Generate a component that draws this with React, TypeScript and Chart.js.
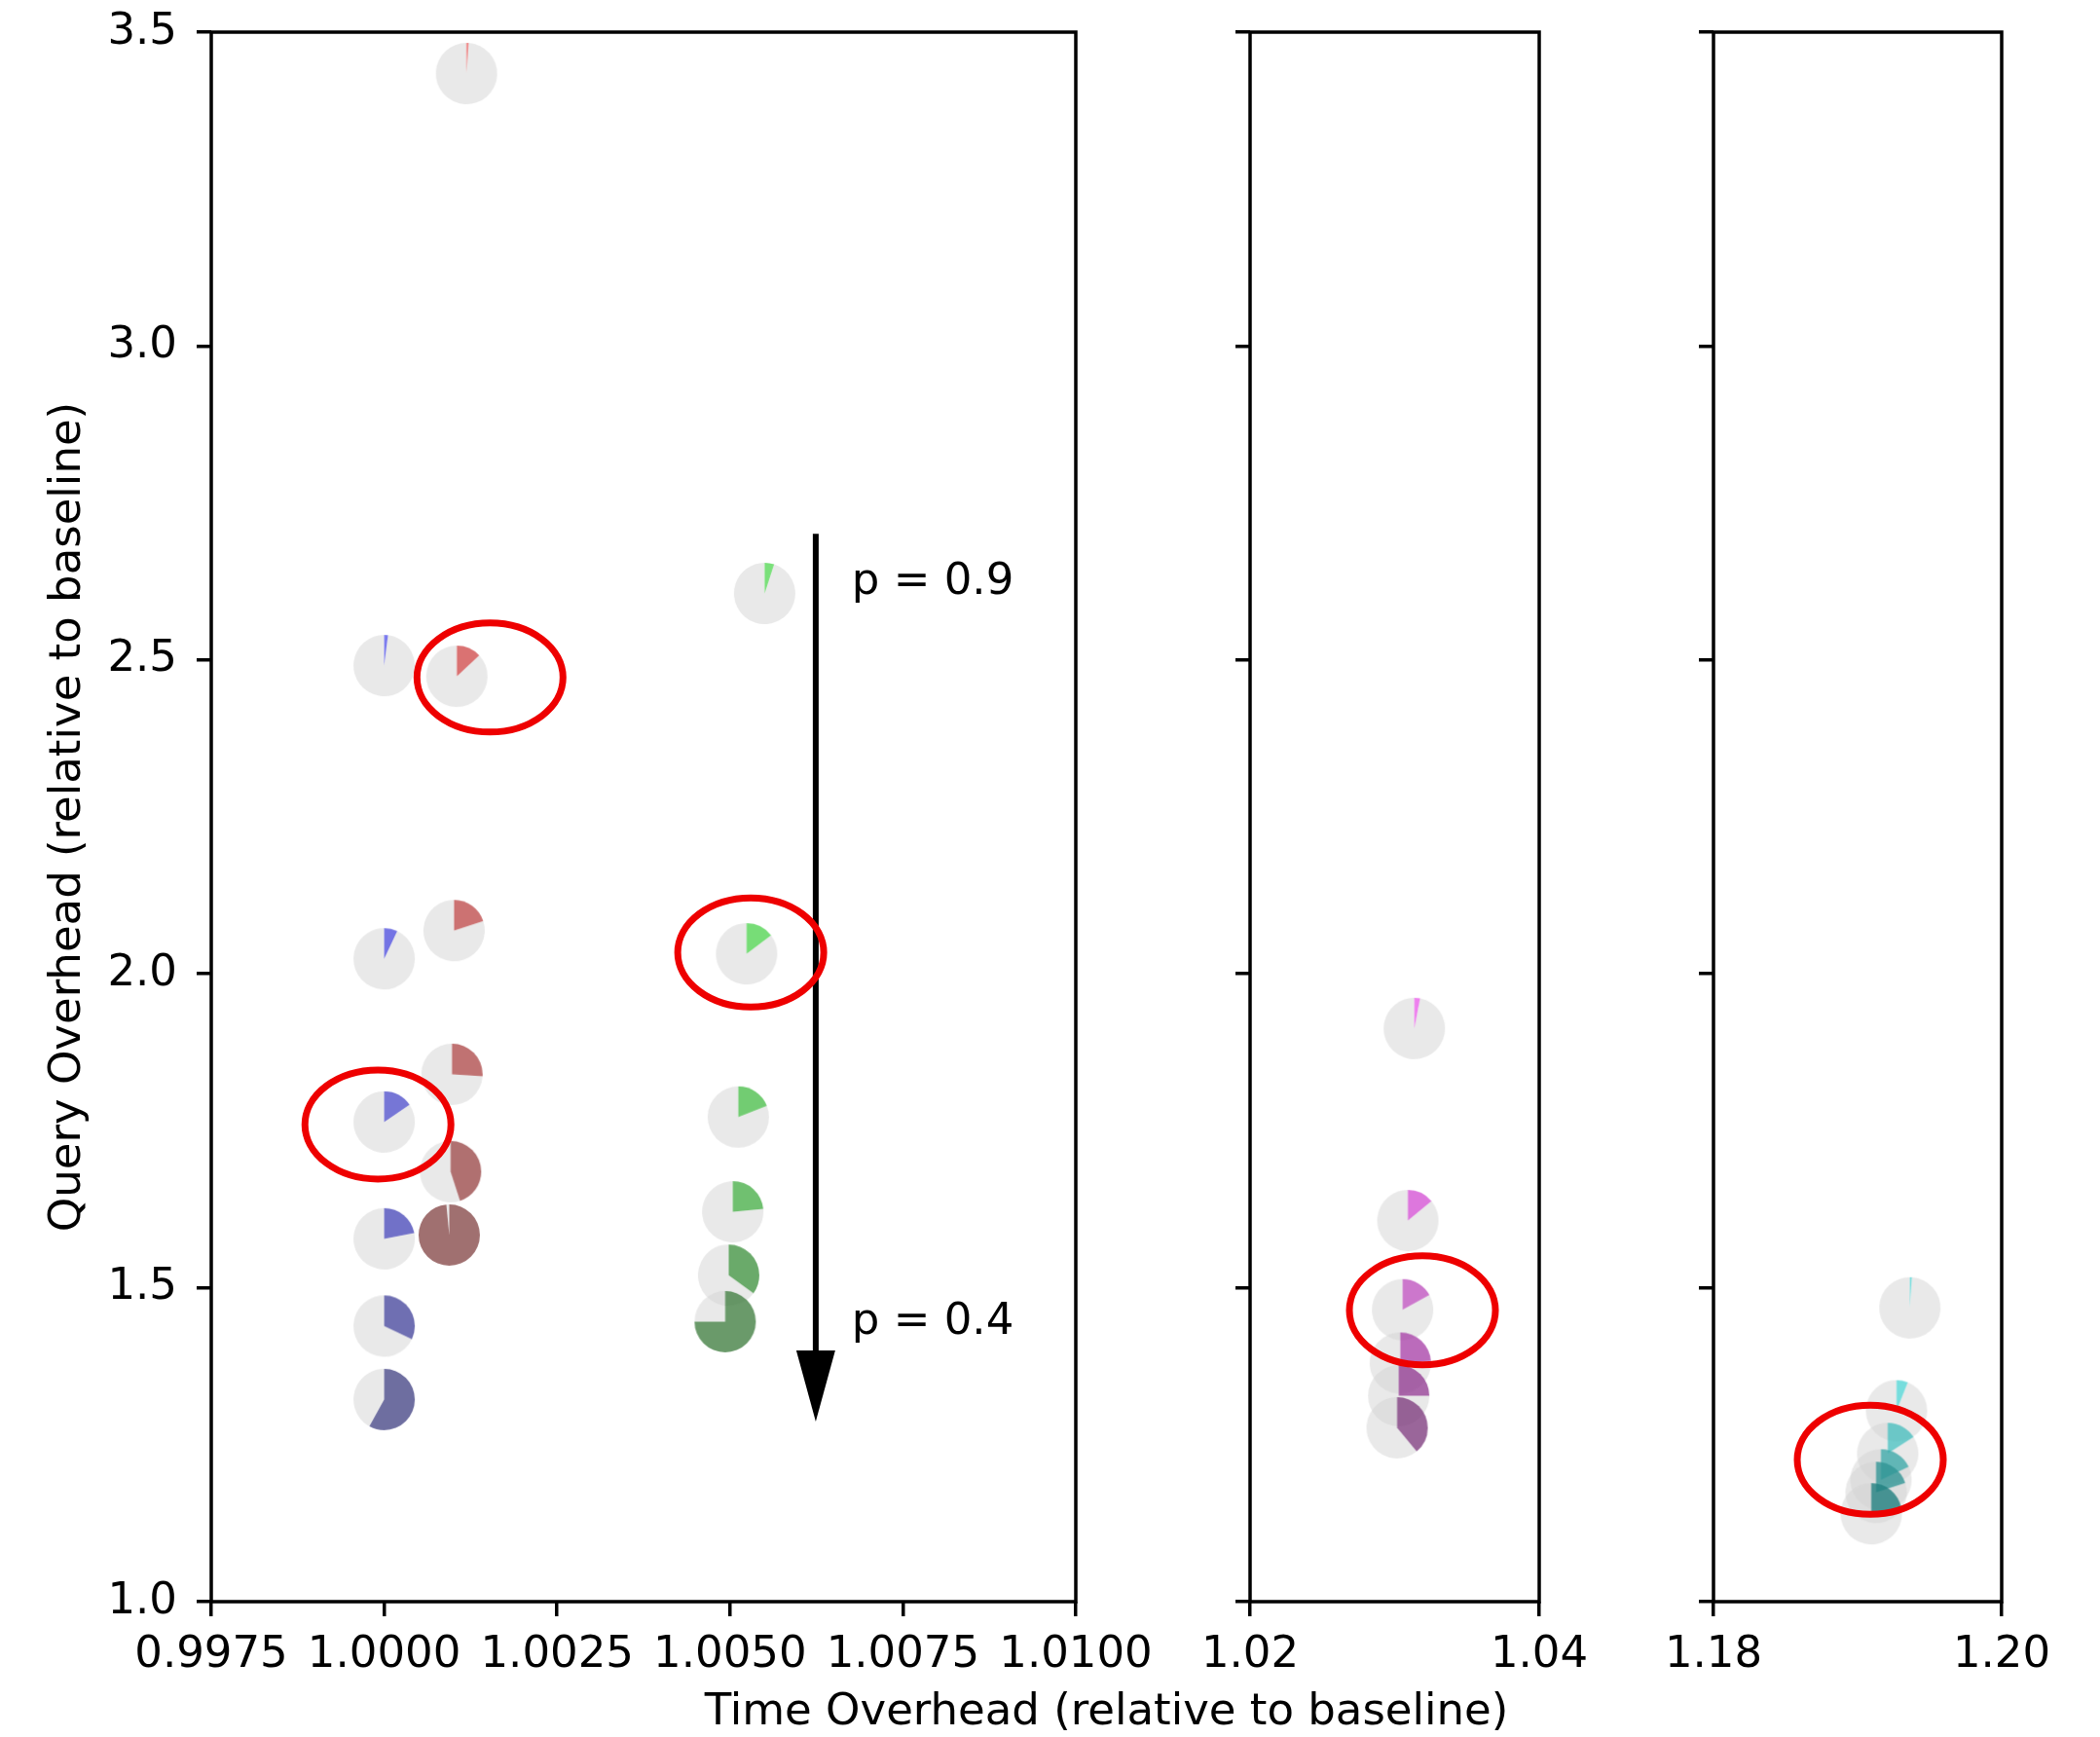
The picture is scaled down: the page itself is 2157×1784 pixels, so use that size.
import React, { useEffect, useRef } from 'react';
import { Chart, registerables } from 'chart.js';

Chart.register(...registerables);

// ---------------- data ----------------
const P_VALUES = [0.9, 0.8, 0.7, 0.6, 0.5, 0.4];

const BLUE_X = [1.0, 1.0, 1.0, 1.0, 1.0, 1.0];
const BLUE_Y = [2.491, 2.024, 1.764, 1.578, 1.439, 1.322];
const BLUE_FRAC = [0.02, 0.07, 0.155, 0.22, 0.32, 0.58];

const RED_X = [1.00119, 1.00105, 1.00101, 1.00098, 1.00096, 1.00094];
const RED_Y = [3.434, 2.474, 2.069, 1.84, 1.685, 1.584];
const RED_FRAC = [0.01, 0.13, 0.2, 0.26, 0.45, 0.985];

const GREEN_X = [1.0055, 1.00524, 1.00512, 1.00504, 1.00498, 1.00493];
const GREEN_Y = [2.606, 2.032, 1.772, 1.621, 1.52, 1.446];
const GREEN_FRAC = [0.05, 0.147, 0.19, 0.235, 0.35, 0.75];

const MAGENTA_X = [1.03136, 1.03091, 1.03055, 1.03039, 1.03028, 1.03017];
const MAGENTA_Y = [1.913, 1.607, 1.465, 1.38, 1.328, 1.277];
const MAGENTA_FRAC = [0.03, 0.14, 0.17, 0.24, 0.25, 0.39];

const TEAL_X = [1.19363, 1.1927, 1.19209, 1.19162, 1.19128, 1.19095];
const TEAL_Y = [1.468, 1.304, 1.236, 1.194, 1.174, 1.14];
const TEAL_FRAC = [0.01, 0.06, 0.16, 0.18, 0.2, 0.22];

const X1_TICKS = [0.9975, 1.0, 1.0025, 1.005, 1.0075, 1.01];
const X2_TICKS = [1.02, 1.04];
const X3_TICKS = [1.18, 1.2];
const Y_TICKS = [1.0, 1.5, 2.0, 2.5, 3.0, 3.5];

const ELLIPSE_PANEL = [0, 0, 0, 1, 2];
const ELLIPSE_X = [1.00153, 1.0053, 0.99991, 1.03192, 1.19088];
const ELLIPSE_Y = [2.472, 2.034, 1.76, 1.464, 1.226];

const ARROW_X = 1.00624;
const ARROW_FROM_Y = 2.701;
const ARROW_TO_Y = 1.287;

const P_LABELS = ['p = 0.9', 'p = 0.4'];
const P_LABEL_X = [1.00676, 1.00676];
const P_LABEL_Y = [2.624, 1.444];

const X_TITLE = 'Time Overhead (relative to baseline)';
const Y_TITLE = 'Query Overhead (relative to baseline)';

// ---------------- styles ----------------
const BLUE_COLORS = ['#7a7aee', '#7474e4', '#7676d6', '#7171c8', '#6f6fb2', '#6e6ea0'];
const RED_COLORS = ['#ee7777', '#da7272', '#cc7272', '#c07272', '#b07070', '#a07070'];
const GREEN_COLORS = ['#7ae07a', '#77dd77', '#72cc72', '#70c070', '#6aaa6a', '#6a9a6a'];
const MAGENTA_COLORS = ['#ee80ee', '#dd77dd', '#cc77cc', '#bb6bbb', '#aa66aa', '#9a669a'];
const TEAL_COLORS = ['#77dddd', '#77dddd', '#70cccc', '#66bbbb', '#5aaaaa', '#4d9999'];

const W = 2157;
const H = 1784;
const PLOT_TOP = 33;
const PLOT_BOTTOM = 1645;
const PANEL_LEFT = [217, 1284, 1760];
const PANEL_RIGHT = [1105, 1581, 2056];
const FONT = 'DejaVu Sans';
const FS = 45;
const LW = 3.5;
const R = 31.5;
const WEDGE_ALPHA = 0.8;
const Y_SCALE_W = 174;
const X_SCALE_H = 100;

function hexToRgba(hex: string, a: number) {
  const n = parseInt(hex.slice(1), 16);
  const comps = [(n >> 16) & 255, (n >> 8) & 255, n & 255].map((v) =>
    Math.max(0, Math.min(255, Math.round((v - 255 * (1 - a)) / a)))
  );
  return `rgba(${comps[0]},${comps[1]},${comps[2]},${a})`;
}

function makePie(frac: number, color: string) {
  const size = Math.ceil(R * 2) + 4;
  const c = document.createElement('canvas');
  c.width = size;
  c.height = size;
  const ctx = c.getContext('2d')!;
  const cx = size / 2;
  const cy = size / 2;
  const start = -Math.PI / 2;
  const end = start + frac * 2 * Math.PI;
  ctx.fillStyle = 'rgba(211,211,211,0.5)';
  ctx.beginPath();
  ctx.moveTo(cx, cy);
  ctx.arc(cx, cy, R, end, start + 2 * Math.PI);
  ctx.closePath();
  ctx.fill();
  ctx.fillStyle = hexToRgba(color, WEDGE_ALPHA);
  ctx.beginPath();
  ctx.moveTo(cx, cy);
  ctx.arc(cx, cy, R, start, end);
  ctx.closePath();
  ctx.fill();
  return c;
}

type Series = { xs: number[]; ys: number[]; fr: number[]; colors: string[] };

const PANEL_SERIES: Series[][] = [
  [
    { xs: BLUE_X, ys: BLUE_Y, fr: BLUE_FRAC, colors: BLUE_COLORS },
    { xs: RED_X, ys: RED_Y, fr: RED_FRAC, colors: RED_COLORS },
    { xs: GREEN_X, ys: GREEN_Y, fr: GREEN_FRAC, colors: GREEN_COLORS },
  ],
  [{ xs: MAGENTA_X, ys: MAGENTA_Y, fr: MAGENTA_FRAC, colors: MAGENTA_COLORS }],
  [{ xs: TEAL_X, ys: TEAL_Y, fr: TEAL_FRAC, colors: TEAL_COLORS }],
];
const PANEL_TICKS = [X1_TICKS, X2_TICKS, X3_TICKS];
const PANEL_DEC = [4, 2, 2];

function boxPlugin() {
  return {
    id: 'box',
    afterDraw(chart: any) {
      const { ctx, chartArea: a } = chart;
      ctx.save();
      ctx.strokeStyle = '#000';
      ctx.lineWidth = LW;
      ctx.lineJoin = 'miter';
      ctx.strokeRect(a.left, a.top, a.right - a.left, a.bottom - a.top);
      ctx.restore();
    },
  };
}

function annotationPlugin(panel: number) {
  return {
    id: 'annot' + panel,
    afterDatasetsDraw(chart: any) {
      const { ctx } = chart;
      const xs = chart.scales.x;
      const ys = chart.scales.y;
      ctx.save();
      if (panel === 0) {
        const ax = xs.getPixelForValue(ARROW_X);
        const y0 = ys.getPixelForValue(ARROW_FROM_Y);
        const y1 = ys.getPixelForValue(ARROW_TO_Y);
        const headL = 73;
        const headW = 40;
        ctx.strokeStyle = '#000';
        ctx.lineWidth = 6;
        ctx.beginPath();
        ctx.moveTo(ax, y0);
        ctx.lineTo(ax, y1 - headL + 2);
        ctx.stroke();
        ctx.fillStyle = '#000';
        ctx.beginPath();
        ctx.moveTo(ax - headW / 2, y1 - headL);
        ctx.lineTo(ax + headW / 2, y1 - headL);
        ctx.lineTo(ax, y1);
        ctx.closePath();
        ctx.fill();
        ctx.font = `${FS}px "${FONT}"`;
        ctx.textAlign = 'left';
        ctx.textBaseline = 'middle';
        P_LABELS.forEach((t, i) => {
          ctx.fillText(t, xs.getPixelForValue(P_LABEL_X[i]), ys.getPixelForValue(P_LABEL_Y[i]));
        });
      }
      ctx.strokeStyle = '#ee0000';
      ctx.lineWidth = 7;
      ELLIPSE_PANEL.forEach((p, i) => {
        if (p !== panel) return;
        ctx.beginPath();
        ctx.ellipse(xs.getPixelForValue(ELLIPSE_X[i]), ys.getPixelForValue(ELLIPSE_Y[i]), 75, 56, 0, 0, Math.PI * 2);
        ctx.stroke();
      });
      if (panel === 2) {
        ctx.fillStyle = '#000';
        ctx.font = `${FS}px "${FONT}"`;
        ctx.textAlign = 'center';
        ctx.textBaseline = 'middle';
        ctx.fillText(X_TITLE, (PANEL_LEFT[0] + chart.chartArea.right) / 2, 1759);
      }
      ctx.restore();
    },
  };
}

function makeConfig(panel: number): any {
  const ticks = PANEL_TICKS[panel];
  const dec = PANEL_DEC[panel];
  const datasets = PANEL_SERIES[panel].map((s, si) => ({
    label: 'series' + panel + '_' + si,
    data: s.xs.map((x, i) => ({ x, y: s.ys[i], p: P_VALUES[i] })),
    pointStyle: s.fr.map((f, i) => makePie(f, s.colors[i])),
    pointRadius: R,
    pointHoverRadius: R,
    showLine: false,
  }));
  return {
    type: 'scatter',
    data: { datasets },
    options: {
      animation: false,
      responsive: false,
      devicePixelRatio: 1,
      events: [],
      layout: {
        padding: {
          left: PANEL_LEFT[panel] - Y_SCALE_W,
          right: W - PANEL_RIGHT[panel],
          top: PLOT_TOP,
          bottom: H - PLOT_BOTTOM - X_SCALE_H,
        },
      },
      plugins: { legend: { display: false }, tooltip: { enabled: false }, title: { display: false } },
      scales: {
        x: {
          type: 'linear',
          min: ticks[0],
          max: ticks[ticks.length - 1],
          afterBuildTicks: (sc: any) => {
            sc.ticks = ticks.map((v) => ({ value: v }));
          },
          afterFit: (sc: any) => {
            sc.height = X_SCALE_H;
            sc.paddingLeft = 0;
            sc.paddingRight = 0;
            sc.paddingTop = 0;
            sc.paddingBottom = 0;
          },
          ticks: {
            callback: (v: number) => Number(v).toFixed(dec),
            font: { family: FONT, size: FS },
            color: '#000',
            padding: 13,
            maxRotation: 0,
            minRotation: 0,
            autoSkip: false,
          },
          grid: {
            display: true,
            drawOnChartArea: false,
            drawTicks: true,
            tickLength: 15,
            tickWidth: LW,
            lineWidth: LW,
            tickColor: '#000',
            color: '#000',
          },
          border: { display: false },
        },
        y: {
          type: 'linear',
          min: Y_TICKS[0],
          max: Y_TICKS[Y_TICKS.length - 1],
          afterBuildTicks: (sc: any) => {
            sc.ticks = Y_TICKS.map((v) => ({ value: v }));
          },
          afterFit: (sc: any) => {
            sc.width = Y_SCALE_W;
            sc.paddingLeft = 0;
            sc.paddingRight = 0;
            sc.paddingTop = 0;
            sc.paddingBottom = 0;
          },
          ticks: {
            display: panel === 0,
            callback: (v: number) => Number(v).toFixed(1),
            font: { family: FONT, size: FS },
            color: '#000',
            padding: 20,
            autoSkip: false,
          },
          title: {
            display: panel === 0,
            text: Y_TITLE,
            font: { family: FONT, size: FS },
            color: '#000',
            padding: 0,
          },
          grid: {
            display: true,
            drawOnChartArea: false,
            drawTicks: true,
            tickLength: 15,
            tickWidth: LW,
            lineWidth: LW,
            tickColor: '#000',
            color: '#000',
          },
          border: { display: false },
        },
      },
    },
    plugins: [boxPlugin(), annotationPlugin(panel)],
  };
}

export default function App() {
  const r0 = useRef<HTMLCanvasElement>(null);
  const r1 = useRef<HTMLCanvasElement>(null);
  const r2 = useRef<HTMLCanvasElement>(null);
  useEffect(() => {
    const refs = [r0, r1, r2];
    const charts = refs.map((r, i) => new Chart(r.current as HTMLCanvasElement, makeConfig(i)));
    return () => charts.forEach((c) => c.destroy());
  }, []);
  const cs: React.CSSProperties = { position: 'absolute', left: 0, top: 0, width: W, height: H };
  return (
    <div style={{ position: 'fixed', left: 0, top: 0, width: W, height: H, background: '#fff' }}>
      <canvas ref={r0} width={W} height={H} style={cs} />
      <canvas ref={r1} width={W} height={H} style={cs} />
      <canvas ref={r2} width={W} height={H} style={cs} />
    </div>
  );
}
